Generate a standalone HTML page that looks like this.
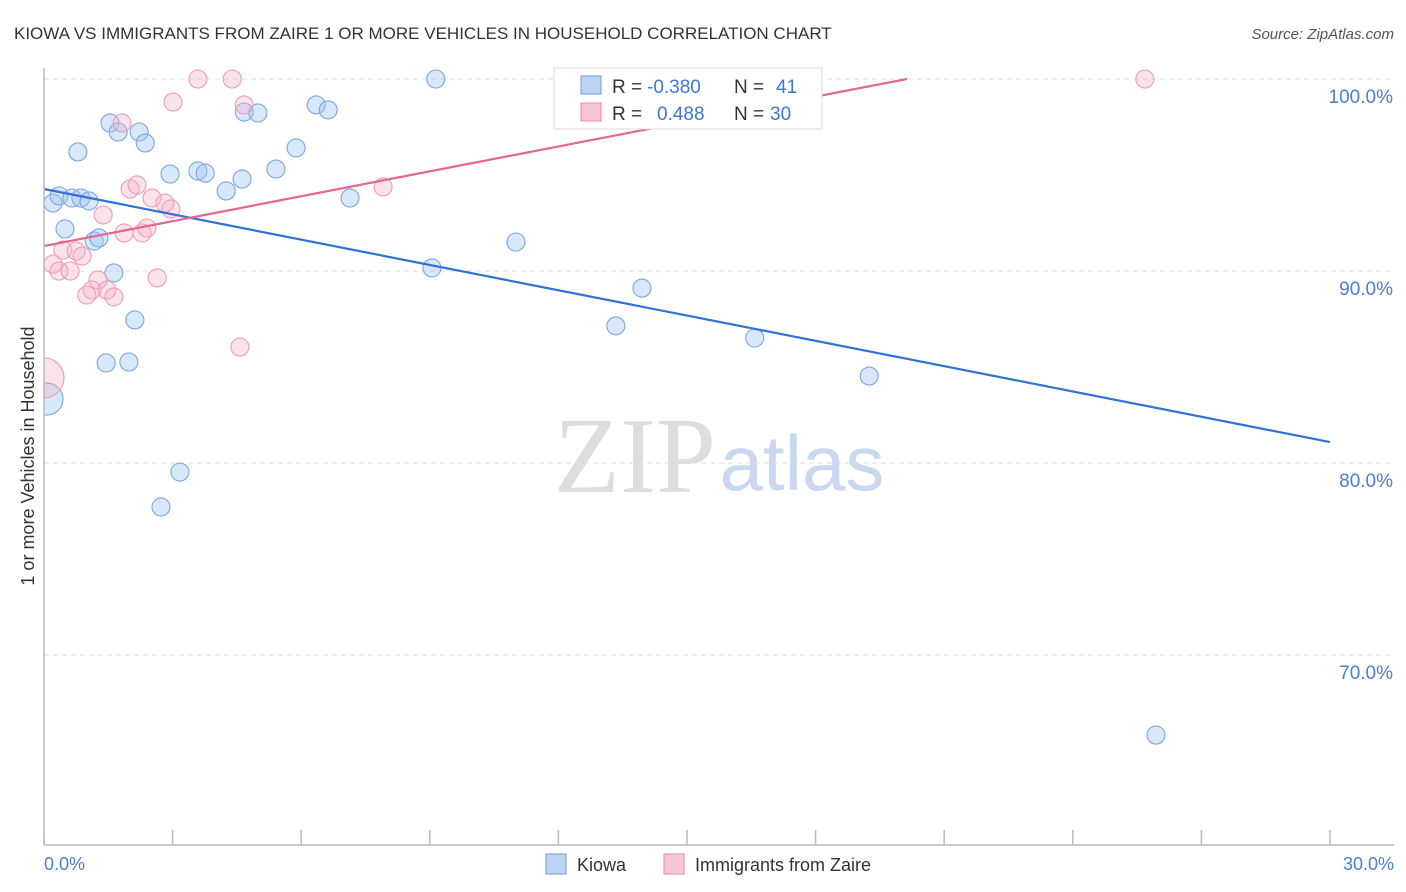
<!DOCTYPE html>
<html><head><meta charset="utf-8"><style>
body{margin:0;background:#fff;font-family:"Liberation Sans",sans-serif;}
svg{display:block}
</style></head><body>
<svg id="c" width="1406" height="892">
<defs><clipPath id="plot"><rect x="44" y="0" width="1362" height="845"/></clipPath></defs>
<text x="14" y="39" font-size="17" fill="#333">KIOWA VS IMMIGRANTS FROM ZAIRE 1 OR MORE VEHICLES IN HOUSEHOLD CORRELATION CHART</text>
<text x="1394" y="39" font-size="15" fill="#555" text-anchor="end" font-style="italic">Source: ZipAtlas.com</text>
<text x="0" y="0" font-size="18" fill="#333" text-anchor="middle" transform="translate(34,456) rotate(-90)">1 or more Vehicles in Household</text>
<text x="635" y="492" font-size="108" fill="#ddd" font-family="Liberation Serif,serif" text-anchor="middle">ZIP</text>
<text x="802" y="490" font-size="78" fill="#c9d8ee" text-anchor="middle">atlas</text>
<g id="grid"></g><g id="pts" clip-path="url(#plot)"></g><g id="lines"></g>
<line x1="44" y1="68" x2="44" y2="845" stroke="#bbb" stroke-width="1.5"/>
<line x1="44" y1="845" x2="1394" y2="845" stroke="#bbb" stroke-width="1.5"/>
<text x="44" y="870" font-size="18" fill="#4a7fd4">0.0%</text>
<text x="1394" y="870" font-size="18" fill="#4a7fd4" text-anchor="end">30.0%</text>
<g>
<rect x="554" y="68" width="268" height="61" fill="#fff" stroke="#ddd"/>
<rect x="581" y="76" width="20" height="18" fill="#bcd3f3" stroke="#6f9be0"/>
<rect x="581" y="103" width="20" height="18" fill="#f8c5d5" stroke="#e98aa8"/>
<text x="612" y="93" font-size="19" fill="#333">R =</text><text x="647" y="93" font-size="19" fill="#3e78d2">-0.380</text>
<text x="734" y="93" font-size="19" fill="#333">N =</text><text x="776" y="93" font-size="19" fill="#3e78d2">41</text>
<text x="612" y="120" font-size="19" fill="#333">R =</text><text x="657" y="120" font-size="19" fill="#3e78d2">0.488</text>
<text x="734" y="120" font-size="19" fill="#333">N =</text><text x="770" y="120" font-size="19" fill="#3e78d2">30</text>
</g>
<g><rect x="546" y="854" width="20" height="20" fill="#bcd3f3" stroke="#6f9be0"/><text x="577" y="871" font-size="18" fill="#333">Kiowa</text></g>
<g><rect x="664" y="854" width="20" height="20" fill="#f8c5d5" stroke="#e98aa8"/><text x="695" y="871" font-size="18" fill="#333">Immigrants from Zaire</text></g>
</svg>
<script>
const yTicks=[100,90,80,70];
const xTicks=[0,3,6,9,12,15,18,21,24,27,30];
const blueX=[0.21,0.35,0.65,0.86,1.05,0.49,1.17,1.28,0.79,1.54,1.73,2.22,2.36,1.63,2.12,1.45,1.98,2.94,3.59,3.76,4.62,4.25,4.67,4.99,5.41,5.88,6.35,6.63,7.14,9.14,9.05,11.01,13.34,13.95,16.58,19.25,25.94,3.17,2.73,0.07,16.24];
const blueY=[93.54,93.91,93.80,93.80,93.65,92.19,91.56,91.72,96.20,97.71,97.24,97.24,96.67,89.90,87.45,85.21,85.26,95.05,95.21,95.10,94.79,94.17,98.28,98.23,95.31,96.41,98.65,98.39,93.80,100,90.16,91.51,87.14,89.11,86.51,84.53,65.83,79.53,77.71,83.33,100];
const blueR=[9,9,9,9,9,9,9,9,9,9,9,9,9,9,9,9,9,9,9,9,9,9,9,9,9,9,9,9,9,9,9,9,9,9,9,9,9,9,9,16,9];
const pinkX=[3.59,4.39,3.01,4.67,1.82,2.01,2.17,2.52,2.82,2.96,1.38,1.87,2.29,2.40,0.44,0.75,0.89,0.21,0.35,0.61,1.26,1.12,1.00,1.47,1.63,2.64,4.57,7.91,25.68,0];
const pinkY=[100,100,98.80,98.65,97.71,94.27,94.48,93.80,93.54,93.23,92.92,91.98,91.98,92.24,91.09,91.04,90.78,90.36,90.00,90.00,89.53,89.01,88.75,89.01,88.65,89.64,86.04,94.38,100,84.43];
const pinkR=[9,9,9,9,9,9,9,9,9,9,9,9,9,9,9,9,9,9,9,9,9,9,9,9,9,9,9,9,9,20];
const blueTrend=[94.27,81.09]; // y at x=0 and x=30
const pinkTrend=[91.30,100,20.13]; // y at 0, y at end, end x
const NS='http://www.w3.org/2000/svg';
const sx=v=>44+v/30*1286, sy=v=>79+(100-v)*19.2;
function mk(t,a,p){const e=document.createElementNS(NS,t);for(const k in a)e.setAttribute(k,a[k]);p.appendChild(e);return e;}
const g=document.getElementById('grid');
yTicks.forEach(t=>{
 const l=mk('line',{x1:44,x2:1394,y1:sy(t),y2:sy(t),stroke:'#ddd','stroke-dasharray':'5,4'},g);
 
 
 const tx=mk('text',{x:1393,y:sy(t)+24,'font-size':19,fill:'#4a7fd4','text-anchor':'end'},g);
 tx.textContent=t.toFixed(1)+'%';
 
 
});
xTicks.forEach(t=>{
 const l=mk('line',{x1:sx(t),x2:sx(t),y1:830,y2:845,stroke:'#bbb','stroke-width':1.5},g);
 
 
});
const p=document.getElementById('pts');
blueX.forEach((x,i)=>{
 const c=mk('circle',{cx:sx(x),cy:sy(blueY[i]),r:blueR[i],fill:'rgba(160,195,242,0.4)',stroke:'#7aa5e6','stroke-width':1.1},p);
 
 
});
pinkX.forEach((x,i)=>{
 const c=mk('circle',{cx:sx(x),cy:sy(pinkY[i]),r:pinkR[i],fill:'rgba(245,175,198,0.35)',stroke:'#ee9cb7','stroke-width':1.1},p);
 
 
});
const L=document.getElementById('lines');
const bl=mk('line',{x1:sx(0),y1:sy(blueTrend[0]),x2:sx(30),y2:sy(blueTrend[1]),stroke:'#2f72d8','stroke-width':2.2},L);


const pl=mk('line',{x1:sx(0),y1:sy(pinkTrend[0]),x2:sx(pinkTrend[2]),y2:sy(pinkTrend[1]),stroke:'#e46592','stroke-width':2.2},L);


</script>
</body></html>
